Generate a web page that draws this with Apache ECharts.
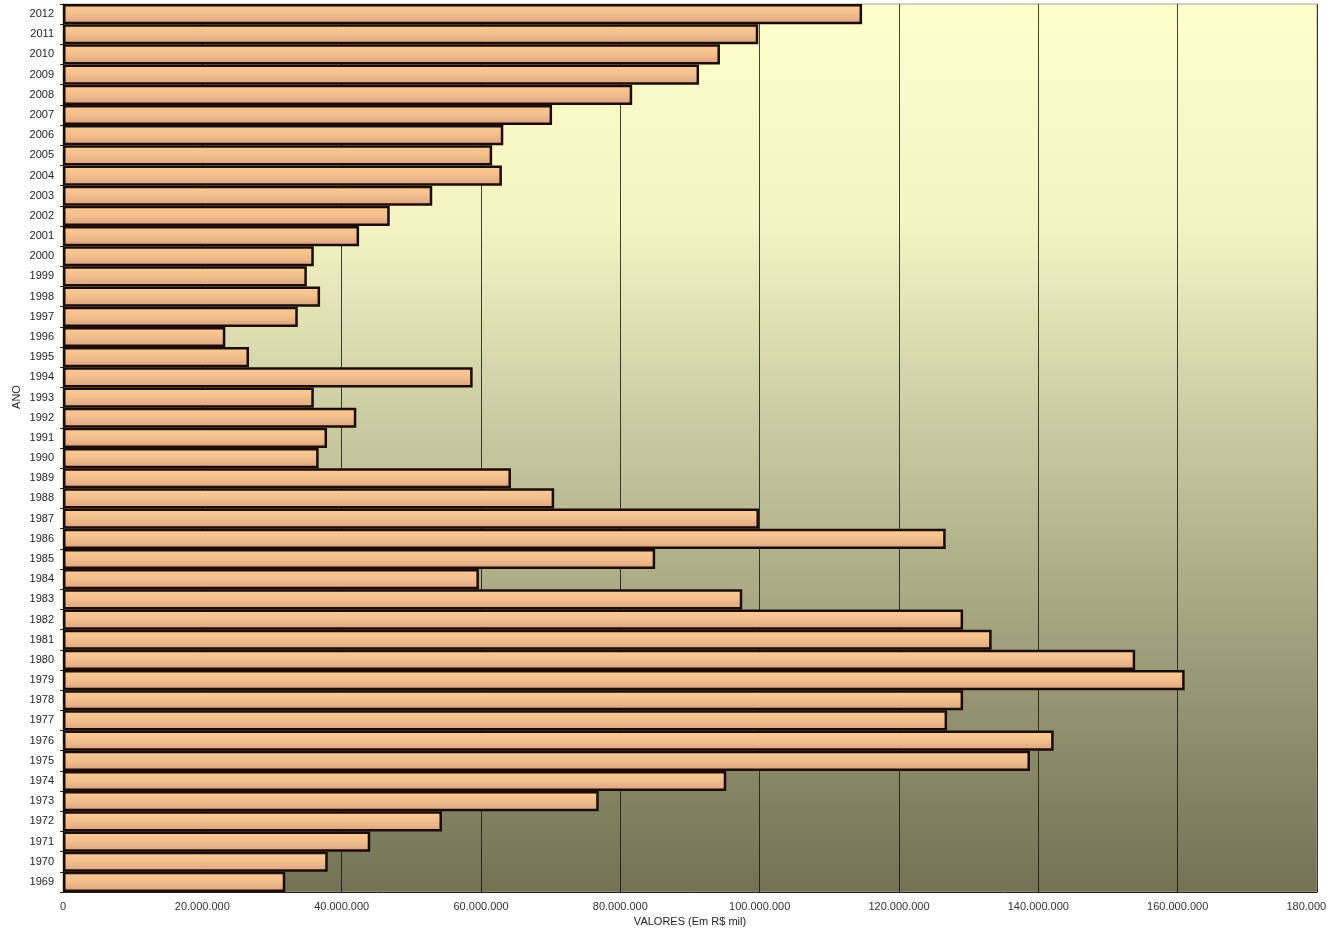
<!DOCTYPE html>
<html>
<head>
<meta charset="utf-8">
<script src="https://cdn.jsdelivr.net/npm/echarts@6/dist/echarts.min.js"></script>
<style>
  html, body { margin: 0; padding: 0; background: #ffffff; }
  #chart { width: 1327px; height: 929px; }
</style>
</head>
<body>
<div id="chart"></div>
<script>
// Anos (eixo vertical), de baixo para cima
const years = [
  '1969','1970','1971','1972','1973','1974','1975','1976','1977','1978',
  '1979','1980','1981','1982','1983','1984','1985','1986','1987','1988',
  '1989','1990','1991','1992','1993','1994','1995','1996','1997','1998',
  '1999','2000','2001','2002','2003','2004','2005','2006','2007','2008',
  '2009','2010','2011','2012'
];

// Valores anuais (Em R$ mil)
const values = [
  31900000, 38000000, 44100000, 54400000, 76900000, 95200000, 138800000, 142200000, 126900000, 129200000,
  161000000, 153900000, 133300000, 129200000, 97500000, 59700000, 85000000, 126700000, 99900000, 70500000,
  64300000, 36700000, 37900000, 42100000, 36000000, 58800000, 26700000, 23300000, 33700000, 36900000,
  35000000, 36000000, 42500000, 46900000, 53000000, 63000000, 61600000, 63200000, 70200000, 81700000,
  91300000, 94300000, 99800000, 114700000
];

// Escala do eixo de valores
const axisMin = 0;
const axisMax = 180000000;
const axisStep = 20000000;

const yAxisTitle = 'ANO';
const xAxisTitle = 'VALORES (Em R$ mil)';

function formatThousands(v) {
  return String(Math.round(v)).replace(/\B(?=(\d{3})+(?!\d))/g, '.');
}

const chart = echarts.init(document.getElementById('chart'), null, { renderer: 'canvas' });

const gridLeft = 63, gridTop = 4, gridRight = 10, gridBottom = 37;

chart.setOption({
  animation: false,
  textStyle: { fontFamily: '"Liberation Sans", Arial, sans-serif' },
  grid: {
    left: gridLeft, top: gridTop, right: gridRight, bottom: gridBottom,
    containLabel: false,
    outerBoundsMode: 'none',
    show: true,
    borderColor: '#a4a48c',
    borderWidth: 1,
    backgroundColor: new echarts.graphic.LinearGradient(0, 0, 0, 1, [
      { offset: 0, color: '#FFFFCC' },
      { offset: 0.25, color: '#F3F3C3' },
      { offset: 0.55, color: '#BDBD97' },
      { offset: 0.8, color: '#92926F' },
      { offset: 1, color: '#727256' }
    ])
  },
  xAxis: {
    type: 'value',
    min: axisMin,
    max: axisMax,
    interval: axisStep,
    name: xAxisTitle,
    nameLocation: 'middle',
    nameGap: 23,
    nameTextStyle: { fontSize: 11, color: '#222' },
    axisLine: { show: true, lineStyle: { color: '#222', width: 1 } },
    axisTick: { show: true, length: 3, inside: true, lineStyle: { color: '#222' } },
    axisLabel: {
      fontSize: 11, color: '#333', margin: 9,
      formatter: formatThousands
    },
    splitLine: { show: true, lineStyle: { color: 'rgba(20,20,10,0.8)', width: 1 } }
  },
  yAxis: {
    type: 'category',
    data: years,
    axisLine: { show: true, lineStyle: { color: '#222', width: 1 } },
    axisTick: { show: true, length: 3, lineStyle: { color: '#222' } },
    axisLabel: { fontSize: 11, color: '#222', margin: 9, interval: 0 },
    splitLine: { show: false }
  },
  graphic: [{
    type: 'text',
    x: 17,
    y: 397,
    rotation: Math.PI / 2,
    style: {
      text: yAxisTitle,
      fontSize: 11,
      fontFamily: '"Liberation Sans", Arial, sans-serif',
      fill: '#222',
      align: 'center',
      verticalAlign: 'middle'
    }
  }],
  series: [{
    type: 'bar',
    data: values,
    barCategoryGap: '0%',
    itemStyle: {
      color: new echarts.graphic.LinearGradient(0, 0, 0, 1, [
        { offset: 0, color: '#FACC98' },
        { offset: 0.5, color: '#F3BE8C' },
        { offset: 1, color: '#D8A382' }
      ]),
      borderColor: '#1c0c06',
      borderWidth: 2.5
    }
  }]
});
</script>
</body>
</html>
